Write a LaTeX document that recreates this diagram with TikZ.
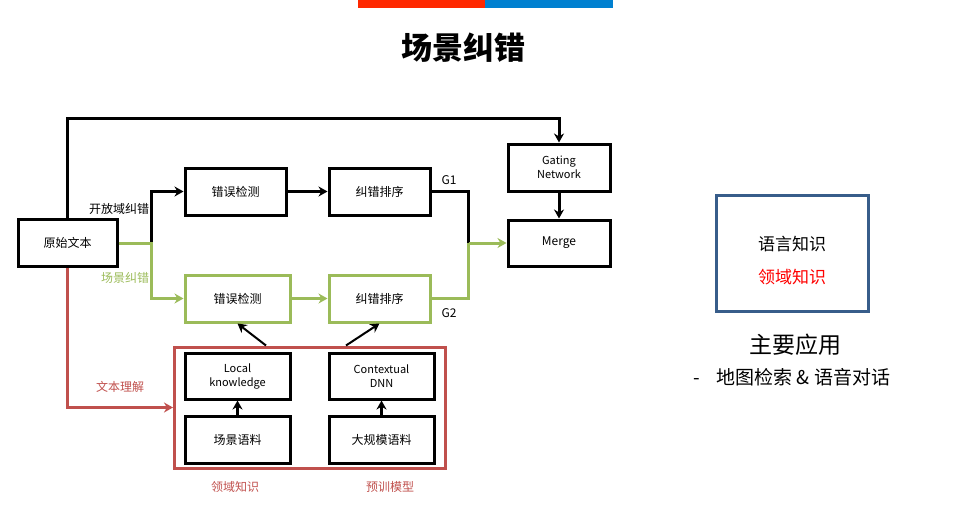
\documentclass[tikz,border=0pt]{standalone}
\usepackage{fontspec}
\setmainfont{Noto Sans CJK SC}
\usetikzlibrary{arrows.meta, positioning, calc}
\definecolor{leafgreen}{RGB}{155,187,89}
\definecolor{brickred}{RGB}{192,80,77}
\definecolor{slateblue}{RGB}{56,93,138}
\definecolor{barred}{RGB}{255,40,0}
\definecolor{barblue}{RGB}{0,128,208}

\begin{document}
\begin{tikzpicture}[x=1pt, y=-1pt]
    \tikzstyle{block} = [rectangle, minimum width=101pt, minimum height=47pt, text centered, align=center, draw=black, line width=3pt, font=\fontsize{12pt}{14pt}\selectfont]
    \tikzstyle{gblock} = [block, draw=leafgreen]
    \tikzstyle{tag} = [font=\fontsize{12pt}{14pt}\selectfont]
    \tikzstyle{arrow} = [line width=3pt, -{Stealth[length=9pt, width=10pt]}]

    \useasboundingbox (0,0) rectangle (968,514);
    \fill [barred] (358,0) rectangle (485,8);
    \fill [barblue] (485,0) rectangle (613,8);
    \node (title) at (463,48) [font=\fontsize{31pt}{33pt}\selectfont\bfseries] {场景纠错};

    % main pipeline
    \node (raw) at (67.5,243) [block, minimum width=99pt] {原始文本};
    \node (det1) at (235.5,191.5) [block] {错误检测};
    \node (rank1) at (379.5,191.5) [block] {纠错排序};
    \node (det2) at (237.5,298.5) [gblock, minimum width=105pt] {错误检测};
    \node (rank2) at (379.5,298.5) [gblock] {纠错排序};
    \node (gating) at (559,167.5) [block, minimum width=102pt, font=\fontsize{11pt}{14pt}\selectfont] {Gating\\Network};
    \node (merge) at (559,243) [block, minimum width=102pt, minimum height=46pt] {Merge};

    % knowledge part
    \node (kbox) at (310,407.5) [rectangle, minimum width=271pt, minimum height=121pt, draw=brickred, line width=3pt] {};
    \node (local) at (237.5,376) [block, minimum width=105pt, minimum height=46pt, font=\fontsize{11pt}{14pt}\selectfont] {Local\\knowledge};
    \node (scene) at (237.5,439.5) [block, minimum width=105pt] {场景语料};
    \node (ctx) at (381.5,376) [block, minimum width=105pt, minimum height=46pt, font=\fontsize{11pt}{14pt}\selectfont] {Contextual\\DNN};
    \node (corpus) at (381.5,439.5) [block, minimum width=105pt] {大规模语料};

    % labels
    \node (open) at (119,209) [tag] {开放域纠错};
    \node (scn) at (125,278) [tag, text=leafgreen] {场景纠错};
    \node (g1) at (449,180) [tag] {G1};
    \node (g2) at (449,313) [tag] {G2};
    \node (nlu) at (120,387) [tag, text=brickred] {文本理解};
    \node (dom) at (235,487) [tag, text=brickred] {领域知识};
    \node (pre) at (390,487) [tag, text=brickred] {预训模型};

    % connectors
    \coordinate (split) at ($(raw.east)+(33,0)$);
    \coordinate (join) at ($(merge.west)+(-38,0)$);
    \draw [arrow] (raw.north) -- ++(0,-100) -| (gating.north);
    \draw [arrow] (gating) -- (merge);
    \draw [arrow] (split) |- (det1.west);
    \draw [arrow, leafgreen] (raw.east) -- (split) |- (det2.west);
    \draw [arrow] (det1) -- (rank1);
    \draw [arrow, leafgreen] (det2) -- (rank2);
    \draw [line width=3pt] (rank1.east) -| (join);
    \draw [line width=3pt, leafgreen] (rank2.east) -| (join);
    \draw [arrow, leafgreen] (join) -- (merge.west);
    \draw [arrow, brickred] (raw.south) |- (kbox.west);
    \draw [arrow] (scene) -- (local);
    \draw [arrow] (corpus) -- (ctx);
    \draw [arrow, line width=2pt] ([xshift=93pt]kbox.north west) -- (det2.south);
    \draw [arrow, line width=2pt] ([xshift=173pt]kbox.north west) -- (rank2.south);

    % right side
    \node (know) at (792,253) [rectangle, minimum width=152pt, minimum height=116pt, draw=slateblue, line width=3pt] {};
    \node (lang) at (792,244) [font=\fontsize{17pt}{20pt}\selectfont] {语言知识};
    \node (field) at (792,277) [font=\fontsize{17pt}{20pt}\selectfont, text=red] {领域知识};
    \node (main) at (795,345) [font=\fontsize{23pt}{26pt}\selectfont] {主要应用};
    \node (apps) at (792,377) [font=\fontsize{19pt}{22pt}\selectfont] {-\hspace{16pt}地图检索 \& 语音对话};
\end{tikzpicture}
\end{document}
